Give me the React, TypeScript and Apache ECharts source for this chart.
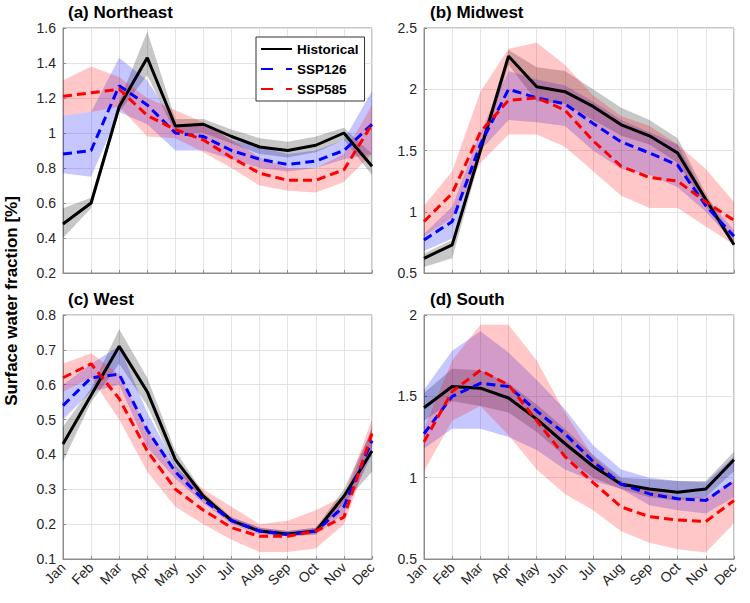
import React, { useEffect, useRef } from "react";
import * as echarts from "echarts";

const MONTHS = ["Jan", "Feb", "Mar", "Apr", "May", "Jun", "Jul", "Aug", "Sep", "Oct", "Nov", "Dec"];

// (a) Northeast
const neHist = [0.48, 0.6, 1.15, 1.43, 1.04, 1.05, 0.98, 0.92, 0.9, 0.93, 1.0, 0.81];
const neHistLo = [0.4, 0.57, 1.12, 1.33, 1.0, 1.0, 0.94, 0.88, 0.86, 0.89, 0.96, 0.76];
const neHistHi = [0.57, 0.63, 1.18, 1.58, 1.08, 1.08, 1.02, 0.97, 0.95, 0.98, 1.03, 0.88];
const ne126 = [0.88, 0.9, 1.27, 1.16, 1.0, 0.98, 0.9, 0.85, 0.82, 0.84, 0.9, 1.05];
const ne126Lo = [0.77, 0.75, 1.12, 1.05, 0.9, 0.9, 0.85, 0.8, 0.78, 0.8, 0.85, 0.88];
const ne126Hi = [1.1, 1.12, 1.43, 1.3, 1.05, 1.05, 0.96, 0.92, 0.88, 0.9, 0.96, 1.24];
const ne585 = [1.21, 1.23, 1.25, 1.1, 1.02, 0.96, 0.86, 0.77, 0.73, 0.73, 0.79, 1.05];
const ne585Lo = [1.1, 1.12, 1.15, 0.98, 0.97, 0.89, 0.8, 0.7, 0.67, 0.66, 0.72, 0.88];
const ne585Hi = [1.3, 1.38, 1.32, 1.2, 1.13, 1.06, 0.96, 0.86, 0.8, 0.8, 0.88, 1.16];

// (b) Midwest
const mwHist = [0.62, 0.73, 1.5, 2.27, 2.02, 1.98, 1.86, 1.71, 1.62, 1.48, 1.1, 0.73];
const mwHistLo = [0.55, 0.62, 1.45, 2.2, 1.9, 1.88, 1.75, 1.62, 1.55, 1.4, 1.05, 0.72];
const mwHistHi = [0.66, 0.77, 1.55, 2.32, 2.18, 2.15, 2.0, 1.85, 1.75, 1.6, 1.15, 0.76];
const mw126 = [0.77, 0.92, 1.55, 2.0, 1.93, 1.88, 1.72, 1.57, 1.48, 1.38, 1.05, 0.8];
const mw126Lo = [0.68, 0.78, 1.5, 1.75, 1.73, 1.7, 1.5, 1.35, 1.3, 1.2, 1.0, 0.75];
const mw126Hi = [0.82, 1.04, 1.65, 2.15, 2.08, 2.03, 1.9, 1.75, 1.65, 1.55, 1.12, 0.85];
const mw585 = [0.92, 1.15, 1.65, 1.91, 1.93, 1.83, 1.58, 1.37, 1.28, 1.25, 1.08, 0.93];
const mw585Lo = [0.8, 0.95, 1.4, 1.63, 1.63, 1.53, 1.33, 1.13, 1.03, 1.03, 0.88, 0.73];
const mw585Hi = [1.05, 1.33, 1.98, 2.33, 2.38, 2.2, 1.95, 1.78, 1.7, 1.55, 1.35, 1.08];

// (c) West
const wHist = [0.43, 0.57, 0.71, 0.58, 0.385, 0.28, 0.21, 0.18, 0.172, 0.18, 0.28, 0.41];
const wHistLo = [0.38, 0.55, 0.66, 0.54, 0.36, 0.27, 0.205, 0.175, 0.165, 0.17, 0.26, 0.35];
const wHistHi = [0.48, 0.59, 0.76, 0.62, 0.41, 0.29, 0.22, 0.19, 0.18, 0.19, 0.3, 0.47];
const w126 = [0.54, 0.62, 0.63, 0.47, 0.35, 0.27, 0.21, 0.18, 0.17, 0.18, 0.25, 0.44];
const w126Lo = [0.5, 0.58, 0.6, 0.42, 0.33, 0.26, 0.2, 0.17, 0.165, 0.17, 0.23, 0.4];
const w126Hi = [0.6, 0.66, 0.71, 0.52, 0.37, 0.28, 0.22, 0.19, 0.18, 0.19, 0.27, 0.48];
const w585 = [0.62, 0.66, 0.56, 0.41, 0.3, 0.24, 0.19, 0.165, 0.165, 0.18, 0.22, 0.46];
const w585Lo = [0.58, 0.62, 0.5, 0.35, 0.25, 0.2, 0.155, 0.12, 0.12, 0.13, 0.2, 0.42];
const w585Hi = [0.66, 0.69, 0.63, 0.47, 0.36, 0.3, 0.25, 0.2, 0.21, 0.24, 0.28, 0.5];

// (d) South
const sHist = [1.43, 1.56, 1.55, 1.49, 1.36, 1.21, 1.07, 0.96, 0.93, 0.91, 0.93, 1.11];
const sHistLo = [1.35, 1.47, 1.44, 1.4, 1.28, 1.13, 1.0, 0.93, 0.88, 0.86, 0.88, 1.04];
const sHistHi = [1.52, 1.67, 1.66, 1.58, 1.45, 1.3, 1.14, 1.0, 0.99, 0.98, 0.98, 1.16];
const s126 = [1.27, 1.5, 1.58, 1.56, 1.41, 1.27, 1.1, 0.96, 0.9, 0.87, 0.86, 0.98];
const s126Lo = [1.18, 1.3, 1.3, 1.25, 1.17, 1.05, 0.98, 0.93, 0.83, 0.8, 0.78, 0.88];
const s126Hi = [1.54, 1.78, 1.9, 1.77, 1.6, 1.42, 1.2, 1.05, 1.0, 0.98, 0.97, 1.13];
const s585 = [1.22, 1.53, 1.66, 1.57, 1.35, 1.13, 0.97, 0.82, 0.76, 0.74, 0.73, 0.86];
const s585Lo = [1.04, 1.35, 1.44, 1.26, 1.05, 0.9, 0.8, 0.67, 0.6, 0.56, 0.54, 0.72];
const s585Hi = [1.3, 1.72, 1.94, 1.94, 1.72, 1.4, 1.13, 0.98, 0.93, 0.88, 0.88, 0.98];

const PANEL_TITLES = ["(a) Northeast", "(b) Midwest", "(c) West", "(d) South"];
const Y_LABEL = "Surface water fraction [%]";
const LEGEND_NAMES = ["Historical", "SSP126", "SSP585"];

const FONT = "'Liberation Sans', Arial, Helvetica, sans-serif";

const panels = [
  { hist: [neHist, neHistLo, neHistHi], p126: [ne126, ne126Lo, ne126Hi], p585: [ne585, ne585Lo, ne585Hi], min: 0.2, max: 1.6, interval: 0.2 },
  { hist: [mwHist, mwHistLo, mwHistHi], p126: [mw126, mw126Lo, mw126Hi], p585: [mw585, mw585Lo, mw585Hi], min: 0.5, max: 2.5, interval: 0.5 },
  { hist: [wHist, wHistLo, wHistHi], p126: [w126, w126Lo, w126Hi], p585: [w585, w585Lo, w585Hi], min: 0.1, max: 0.8, interval: 0.1 },
  { hist: [sHist, sHistLo, sHistHi], p126: [s126, s126Lo, s126Hi], p585: [s585, s585Lo, s585Hi], min: 0.5, max: 2, interval: 0.5 },
];

const grids = [
  { left: 63, top: 28, width: 309, height: 245 },
  { left: 424, top: 28, width: 310, height: 245 },
  { left: 63, top: 315, width: 309, height: 244 },
  { left: 424, top: 315, width: 310, height: 244 },
];

const titlePos = [
  { x: 68, y: 12 },
  { x: 430, y: 12 },
  { x: 68, y: 299 },
  { x: 430, y: 299 },
];

const STYLES = {
  hist: { color: "#000000", band: "rgba(0,0,0,0.22)", dash: "solid" as any, name: "Historical" },
  p126: { color: "#0000ff", band: "rgba(0,0,255,0.22)", dash: [9, 5] as any, name: "SSP126" },
  p585: { color: "#ff0000", band: "rgba(255,0,0,0.22)", dash: [9, 5] as any, name: "SSP585" },
};

// Shaded range: an invisible lower line plus a stacked (hi - lo) area on top of it
function bandPair(key: string, idx: number, lo: number[], hi: number[], color: string) {
  const stack = `band-${key}-${idx}`;
  return [
    {
      type: "line",
      name: `${key}-lo-${idx}`,
      xAxisIndex: idx,
      yAxisIndex: idx,
      data: lo,
      stack,
      symbol: "none",
      silent: true,
      lineStyle: { opacity: 0 },
    },
    {
      type: "line",
      name: `${key}-hi-${idx}`,
      xAxisIndex: idx,
      yAxisIndex: idx,
      data: hi.map((v, i) => +(v - lo[i]).toFixed(4)),
      stack,
      symbol: "none",
      silent: true,
      lineStyle: { opacity: 0 },
      areaStyle: { color, opacity: 1 },
    },
  ];
}

function buildSeries() {
  const out: any[] = [];
  panels.forEach((p, idx) => {
    (["hist", "p126", "p585"] as const).forEach((key) => {
      const s = STYLES[key];
      const [mid, lo, hi] = p[key];
      out.push(...bandPair(key, idx, lo, hi, s.band));
      out.push({
        type: "line",
        name: s.name,
        xAxisIndex: idx,
        yAxisIndex: idx,
        data: mid,
        symbol: "none",
        color: s.color,
        lineStyle: { color: s.color, width: 3, type: s.dash },
      });
    });
  });
  return out;
}

export default function App() {
  const ref = useRef<HTMLDivElement>(null);

  useEffect(() => {
    if (!ref.current) return;
    document.body.style.margin = "0";
    const chart = echarts.init(ref.current, undefined, { renderer: "svg" });

    const xAxis = grids.map((_, i) => ({
      type: "category",
      gridIndex: i,
      data: MONTHS,
      boundaryGap: false,
      axisLine: { show: true, lineStyle: { color: "#8c8c8c", width: 1 } },
      axisTick: { show: true, inside: true, length: 3, lineStyle: { color: "#8c8c8c" } },
      splitLine: { show: true, lineStyle: { color: "#e3e3e3", width: 1 } },
      axisLabel: {
        show: i >= 2,
        rotate: 45,
        interval: 0,
        color: "#262626",
        fontFamily: FONT,
        fontSize: 14,
        margin: 6,
      },
    }));

    const yAxis = panels.map((p, i) => ({
      type: "value",
      gridIndex: i,
      min: p.min,
      max: p.max,
      interval: p.interval,
      axisLine: { show: true, lineStyle: { color: "#8c8c8c", width: 1 } },
      axisTick: { show: true, inside: true, length: 3, lineStyle: { color: "#8c8c8c" } },
      splitLine: { show: true, lineStyle: { color: "#e3e3e3", width: 1 } },
      axisLabel: { color: "#262626", fontFamily: FONT, fontSize: 14, margin: 7 },
    }));

    const graphic: any[] = PANEL_TITLES.map((t, i) => ({
      type: "text",
      x: titlePos[i].x,
      y: titlePos[i].y,
      style: {
        text: t,
        font: `bold 17px ${FONT}`,
        fill: "#000",
        verticalAlign: "middle",
        align: "left",
      },
    }));
    graphic.push({
      type: "text",
      x: 11,
      y: 301,
      rotation: Math.PI / 2,
      style: {
        text: Y_LABEL,
        font: `bold 17px ${FONT}`,
        fill: "#000",
        align: "center",
        verticalAlign: "middle",
      },
    });

    chart.setOption({
      animation: false,
      backgroundColor: "#ffffff",
      grid: grids.map((g) => ({ ...g, show: true, borderColor: "#8c8c8c", borderWidth: 1, backgroundColor: "transparent" })),
      xAxis,
      yAxis,
      legend: {
        data: [
          { name: LEGEND_NAMES[0] },
          { name: LEGEND_NAMES[1], lineStyle: { type: [12, 13] } },
          { name: LEGEND_NAMES[2], lineStyle: { type: [12, 13] } },
        ],
        orient: "vertical",
        left: 256,
        top: 37,
        itemWidth: 31,
        itemHeight: 12,
        itemGap: 6,
        padding: [5, 6, 5, 4],
        backgroundColor: "#ffffff",
        borderColor: "#333333",
        borderWidth: 1,
        borderRadius: 0,
        selectedMode: false,
        itemStyle: { opacity: 0 },
        textStyle: { fontFamily: FONT, fontSize: 13.5, fontWeight: "bold", color: "#000", width: 72 },
      },
      graphic,
      series: buildSeries(),
    });

    return () => chart.dispose();
  }, []);

  return <div ref={ref} style={{ width: 750, height: 603 }} />;
}
